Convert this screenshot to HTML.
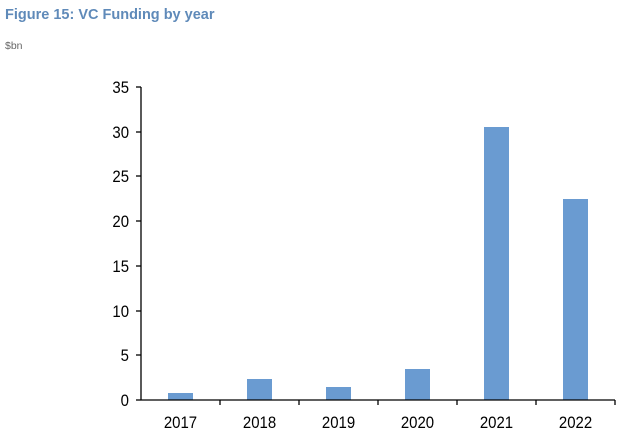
<!DOCTYPE html>
<html><head><style>
body{margin:0;background:#fff;width:640px;height:437px;overflow:hidden;font-family:"Liberation Sans",sans-serif}
</style></head><body>
<svg width="640" height="437" xmlns="http://www.w3.org/2000/svg" font-family="Liberation Sans, sans-serif">
<text x="5" y="19" font-size="14.5" font-weight="bold" fill="#5f8ab9">Figure 15: VC Funding by year</text>
<text x="5" y="49" font-size="10.5" fill="#666">$bn</text>
<g fill="#6a9bd1">
<rect x="168" y="393" width="25" height="7"/>
<rect x="247" y="379" width="25" height="21"/>
<rect x="326" y="387" width="25" height="13"/>
<rect x="405" y="369" width="25" height="31"/>
<rect x="484" y="127" width="25" height="273"/>
<rect x="563" y="199" width="25" height="201"/>
</g>
<g stroke="#000" stroke-width="1.3" fill="none">
<line x1="141" y1="87" x2="141" y2="400"/>
<line x1="141" y1="400" x2="615" y2="400"/>
<line x1="136" y1="87" x2="141" y2="87"/>
<line x1="136" y1="132" x2="141" y2="132"/>
<line x1="136" y1="176" x2="141" y2="176"/>
<line x1="136" y1="221" x2="141" y2="221"/>
<line x1="136" y1="266" x2="141" y2="266"/>
<line x1="136" y1="311" x2="141" y2="311"/>
<line x1="136" y1="355" x2="141" y2="355"/>
<line x1="136" y1="400" x2="141" y2="400"/>
<line x1="220" y1="400" x2="220" y2="405"/>
<line x1="299" y1="400" x2="299" y2="405"/>
<line x1="378" y1="400" x2="378" y2="405"/>
<line x1="457" y1="400" x2="457" y2="405"/>
<line x1="536" y1="400" x2="536" y2="405"/>
<line x1="615" y1="400" x2="615" y2="405"/>
</g>
<g font-size="17" fill="#000" text-anchor="end" transform="scale(0.88,1)">
<text x="146.6" y="93">35</text>
<text x="146.6" y="138">30</text>
<text x="146.6" y="182">25</text>
<text x="146.6" y="227">20</text>
<text x="146.6" y="272">15</text>
<text x="146.6" y="317">10</text>
<text x="146.6" y="361">5</text>
<text x="146.6" y="406">0</text>
</g>
<g font-size="17" fill="#000" text-anchor="middle" transform="scale(0.88,1)">
<text x="205.1" y="428">2017</text>
<text x="294.9" y="428">2018</text>
<text x="384.7" y="428">2019</text>
<text x="474.4" y="428">2020</text>
<text x="564.2" y="428">2021</text>
<text x="654" y="428">2022</text>
</g>
</svg>
</body></html>
